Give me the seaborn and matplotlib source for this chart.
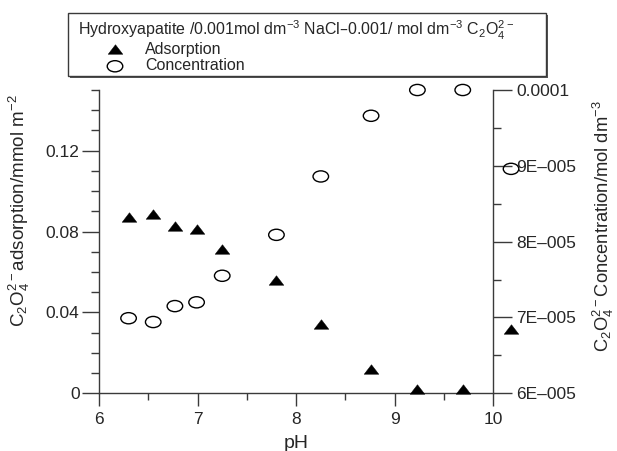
import numpy as np
import pandas as pd
import matplotlib
matplotlib.use("Agg")
import matplotlib.pyplot as plt
import seaborn as sns
from matplotlib.path import Path
from matplotlib.markers import MarkerStyle
from matplotlib.patches import Rectangle
from matplotlib.ticker import MultipleLocator, FixedLocator

# ---- data ----
ph = [6.30, 6.55, 6.77, 6.99, 7.25, 7.80, 8.25, 8.76, 9.23, 9.69, 10.18]
adsorption = [0.0872, 0.0886, 0.0826, 0.0814, 0.0713, 0.0559, 0.0344, 0.0118, 0.0023, 0.0023, 0.0319]
concentration = [6.99e-5, 6.94e-5, 7.15e-5, 7.20e-5, 7.55e-5, 8.09e-5, 8.86e-5, 9.66e-5, 1.0e-4, 1.0e-4, 8.96e-5]

x_ticks = [6, 7, 8, 9, 10]
left_ticks = [0, 0.04, 0.08, 0.12]
left_tick_labels = ["0", "0.04", "0.08", "0.12"]
right_ticks = [6e-5, 7e-5, 8e-5, 9e-5, 1e-4]
right_tick_labels = ["6E\u2013005", "7E\u2013005", "8E\u2013005", "9E\u2013005", "0.0001"]

legend_title = "Hydroxyapatite /0.001mol dm$^{-3}$ NaCl\u20130.001/ mol dm$^{-3}$ C$_2$O$_4^{2-}$"
label_ads = "Adsorption"
label_conc = "Concentration"
xlabel = "pH"
ylabel_left = "C$_2$O$_4^{2-}$adsorption/mmol m$^{-2}$"
ylabel_right = "C$_2$O$_4^{2-}$Concentration/mol dm$^{-3}$"

df = pd.DataFrame({"pH": ph, "ads": adsorption, "conc": concentration})

sns.set_style("white")
plt.rcParams["font.family"] = ["Liberation Sans", "DejaVu Sans"]
plt.rcParams["mathtext.default"] = "regular"

axis_col = "#3a3a3a"

fig = plt.figure(figsize=(6.17, 4.51), dpi=100)
W, H = 617, 451
x0, x1, y0, y1 = 99, 493.3, 90, 393.3
ax = fig.add_axes([x0 / W, 1 - y1 / H, (x1 - x0) / W, (y1 - y0) / H])
ax2 = ax.twinx()

# markers: flat triangle and horizontal ellipse
tri = MarkerStyle(Path([(0, 0.65), (-1, -0.65), (1, -0.65), (0, 0.65)],
                       [Path.MOVETO, Path.LINETO, Path.LINETO, Path.CLOSEPOLY]))
circ = Path.unit_circle()
ell = MarkerStyle(Path(circ.vertices * np.array([1.0, 0.72]), circ.codes))

sns.scatterplot(data=df, x="pH", y="ads", ax=ax, marker=tri, s=112,
                color="black", edgecolor="black", linewidth=0.3,
                clip_on=False, label=label_ads, legend=False, zorder=3)
sns.scatterplot(data=df, x="pH", y="conc", ax=ax2, marker=ell, s=125,
                facecolors="none", edgecolor="black", linewidth=1.0,
                clip_on=False, label=label_conc, legend=False, zorder=3)

ax.set_xlim(6, 10)
ax.set_ylim(0, 0.15)
ax2.set_ylim(6e-5, 1e-4)

ax.xaxis.set_major_locator(FixedLocator(x_ticks))
ax.xaxis.set_minor_locator(MultipleLocator(0.5))
ax.set_yticks(left_ticks, left_tick_labels)
ax.yaxis.set_minor_locator(MultipleLocator(0.01))
ax2.set_yticks(right_ticks, right_tick_labels)
ax2.yaxis.set_minor_locator(MultipleLocator(5e-6))

for a in (ax, ax2):
    for s in a.spines.values():
        s.set_visible(False)
    a.grid(False)
    a.set_facecolor("none")
ax.spines["left"].set_visible(True)
ax.spines["bottom"].set_visible(True)
ax2.spines["right"].set_visible(True)
for s in (ax.spines["left"], ax.spines["bottom"], ax2.spines["right"]):
    s.set_color(axis_col)
    s.set_linewidth(1.0)

ax.tick_params(axis="y", which="major", direction="out", length=12, width=1.0,
               color=axis_col, labelsize=12.5, pad=2, left=True, right=False)
ax.tick_params(axis="y", which="minor", direction="out", length=6, width=1.0,
               color=axis_col, left=True, right=False)
ax.tick_params(axis="x", which="major", direction="out", length=9.5, width=1.0,
               color=axis_col, labelsize=12.5, pad=4, bottom=True, top=False)
ax.tick_params(axis="x", which="minor", direction="out", length=5, width=1.0,
               color=axis_col, bottom=True, top=False)
ax2.tick_params(axis="y", which="major", direction="out", length=13.5, width=1.0,
                color=axis_col, labelsize=12.5, pad=3, right=True, left=False)
ax2.tick_params(axis="y", which="minor", direction="out", length=6, width=1.0,
                color=axis_col, right=True, left=False)

ax.set_xlabel(xlabel, fontsize=14)
ax.xaxis.set_label_coords(0.5, -(435 - y1) / (y1 - y0))
ax.set_ylabel(ylabel_left, fontsize=13.5)
ax.yaxis.set_label_coords((32 - x0) / (x1 - x0), (y1 - 211) / (y1 - y0))
ax2.set_ylabel(ylabel_right, fontsize=13.2)
ax2.yaxis.set_label_coords((591 - x0) / (x1 - x0), (y1 - 226) / (y1 - y0))

# ---- legend box: frame + shadow, title text, entries ----
bx0, by0, bx1, by1 = 68, 13, 546, 76
shadow = Rectangle(((bx0 + 2) / W, 1 - (by1 + 1.6) / H), (bx1 - bx0) / W, (by1 - by0) / H,
                   transform=fig.transFigure, facecolor="#555555", edgecolor="none",
                   zorder=8)
frame = Rectangle((bx0 / W, 1 - by1 / H), (bx1 - bx0) / W, (by1 - by0) / H,
                  transform=fig.transFigure, facecolor="white", edgecolor=axis_col,
                  linewidth=1.0, zorder=9)
fig.patches.extend([shadow, frame])
fig.text(78 / W, 1 - 36 / H, legend_title, fontsize=11.5, ha="left", va="baseline",
         zorder=10)

fs = 11.5
px = fs * 100 / 72
pad_px = 0.4 * px
L = 2 * (145 - pad_px - 115)
xs = 115 - L / 2
handles = [ax.collections[0], ax2.collections[0]]
leg = fig.legend(handles, [label_ads, label_conc], loc="center left",
                 bbox_to_anchor=(xs / W, 1 - 57.5 / H), borderaxespad=0, borderpad=0,
                 fontsize=fs, frameon=False, handlelength=L / px,
                 handletextpad=0.4, labelspacing=0.12, scatterpoints=1)
leg.set_zorder(11)

fig.savefig("out.png", dpi=100)
